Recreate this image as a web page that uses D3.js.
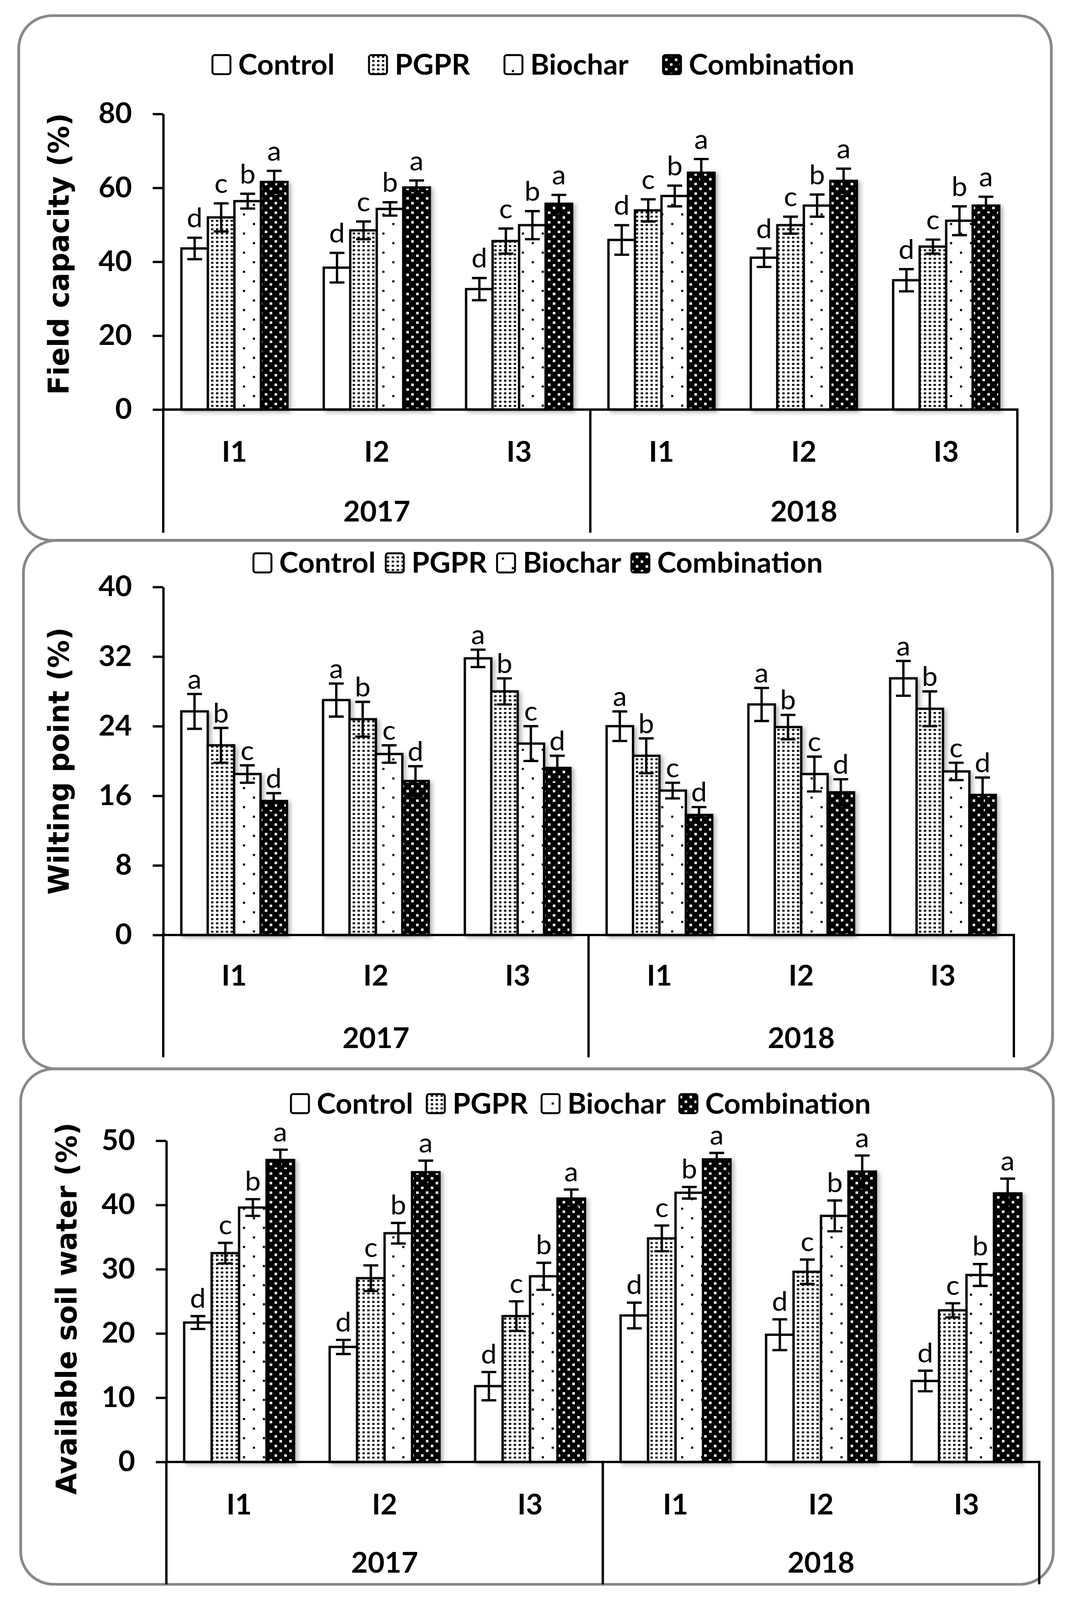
<!DOCTYPE html>
<html>
<head>
<meta charset="utf-8">
<script src="https://cdn.jsdelivr.net/npm/d3@7/dist/d3.min.js"></script>
<style>
  html, body { margin: 0; padding: 0; background: #fff; overflow: hidden; }
  svg { display: block; }
</style>
</head>
<body>
<script>
// categories
const series = ["Control", "PGPR", "Biochar", "Combination"];
const years = ["2017", "2018"];
const levels = ["I1", "I2", "I3"];

// Field capacity (%) -- order: 2017 I1, I2, I3, 2018 I1, I2, I3
const fcControl = [43.6, 38.4, 32.6, 45.9, 41.1, 35.0];
const fcPGPR = [52.0, 48.5, 45.6, 53.9, 49.9, 44.1];
const fcBiochar = [56.4, 54.3, 49.9, 57.8, 55.2, 51.1];
const fcCombination = [61.6, 60.1, 55.7, 64.1, 61.9, 55.2];
const fcControlErr = [2.9, 4.0, 3.0, 4.0, 2.5, 3.0];
const fcPGPRErr = [3.8, 2.4, 3.4, 3.0, 2.3, 1.9];
const fcBiocharErr = [2.0, 1.8, 3.8, 2.8, 3.0, 3.9];
const fcCombinationErr = [3.0, 1.9, 2.4, 3.7, 3.3, 2.4];
const fcLetters = ["d", "c", "b", "a"];
const fcTicks = [0, 20, 40, 60, 80];

// Wilting point (%)
const wpControl = [25.7, 27.0, 31.8, 24.0, 26.5, 29.5];
const wpPGPR = [21.8, 24.8, 28.0, 20.6, 23.9, 26.0];
const wpBiochar = [18.5, 20.8, 22.0, 16.6, 18.5, 18.8];
const wpCombination = [15.4, 17.7, 19.2, 13.8, 16.4, 16.1];
const wpControlErr = [2.0, 1.9, 1.0, 1.7, 1.9, 2.0];
const wpPGPRErr = [2.0, 2.0, 1.5, 2.0, 1.4, 2.0];
const wpBiocharErr = [1.0, 1.0, 2.0, 0.9, 2.0, 1.0];
const wpCombinationErr = [0.9, 1.7, 1.4, 0.9, 1.5, 2.0];
const wpLetters = ["a", "b", "c", "d"];
const wpTicks = [0, 8, 16, 24, 32, 40];

// Available soil water (%)
const aswControl = [21.7, 17.9, 11.8, 22.8, 19.8, 12.6];
const aswPGPR = [32.5, 28.6, 22.7, 34.8, 29.6, 23.6];
const aswBiochar = [39.6, 35.6, 28.9, 41.9, 38.3, 29.1];
const aswCombination = [47.0, 45.1, 41.0, 47.1, 45.2, 41.8];
const aswControlErr = [1.0, 1.1, 2.2, 2.0, 2.4, 1.6];
const aswPGPRErr = [1.6, 2.0, 2.3, 2.0, 1.9, 1.1];
const aswBiocharErr = [1.3, 1.6, 2.1, 0.9, 2.4, 1.7];
const aswCombinationErr = [1.6, 1.8, 1.4, 1.0, 2.5, 2.3];
const aswLetters = ["d", "c", "b", "a"];
const aswTicks = [0, 10, 20, 30, 40, 50];

const groupKeys = years.flatMap(y => levels.map(l => y + "-" + l));

// drawing is laid out on a 2750 x 4184 canvas and stretched to the visible window
const svg = d3.select("body")
  .append("svg")
  .attr("viewBox", "0 0 2750 4184")
  .attr("preserveAspectRatio", "none")
  .style("width", window.innerWidth + "px")
  .style("height", window.innerHeight + "px");

const defs = svg.append("defs");

// fill patterns, one per treatment
const pgpr = defs.append("pattern").attr("id", "pat-PGPR")
  .attr("patternUnits", "userSpaceOnUse").attr("width", 12.5).attr("height", 11);
pgpr.append("rect").attr("width", 12.5).attr("height", 11).attr("fill", "#fff");
pgpr.append("rect").attr("x", 3).attr("y", 3).attr("width", 6).attr("height", 5).attr("fill", "#000");

const bio = defs.append("pattern").attr("id", "pat-Biochar")
  .attr("patternUnits", "userSpaceOnUse").attr("width", 51).attr("height", 50);
bio.append("rect").attr("width", 51).attr("height", 50).attr("fill", "#fff");
bio.append("rect").attr("x", 10).attr("y", 8).attr("width", 5.5).attr("height", 5.5).attr("fill", "#000");
bio.append("rect").attr("x", 35.5).attr("y", 33).attr("width", 5.5).attr("height", 5.5).attr("fill", "#000");

const combo = defs.append("pattern").attr("id", "pat-Combination")
  .attr("patternUnits", "userSpaceOnUse").attr("width", 25).attr("height", 25);
combo.append("rect").attr("width", 25).attr("height", 25).attr("fill", "#000");
combo.append("rect").attr("x", 3).attr("y", 3).attr("width", 6.5).attr("height", 6.5).attr("fill", "#fff");
combo.append("rect").attr("x", 15.5).attr("y", 15.5).attr("width", 6.5).attr("height", 6.5).attr("fill", "#fff");

const fillFor = s => s === "Control" ? "#fff" : "url(#pat-" + s + ")";

const shadow = defs.append("filter").attr("id", "shadow")
  .attr("x", "-20%").attr("y", "-20%").attr("width", "140%").attr("height", "140%");
shadow.append("feDropShadow")
  .attr("dx", 6).attr("dy", 4).attr("stdDeviation", 6)
  .attr("flood-color", "#000").attr("flood-opacity", 0.3);

const textFont = "Lato, 'Liberation Sans', sans-serif";

function drawPanel(cfg, values, errors, letters, ticks) {
  const g = svg.append("g");

  // rounded panel frame
  g.append("rect")
    .attr("x", cfg.box[0]).attr("y", cfg.box[1])
    .attr("width", cfg.box[2]).attr("height", cfg.box[3])
    .attr("rx", 85).attr("ry", 85)
    .attr("fill", "none").attr("stroke", "#888").attr("stroke-width", 7);

  const x0 = d3.scaleBand().domain(groupKeys)
    .range([cfg.left, cfg.right]).paddingInner(cfg.pad).paddingOuter(cfg.pad / 2);
  const x1 = d3.scaleBand().domain(series).range([0, x0.bandwidth()]);
  const xYear = d3.scaleBand().domain(years).range([cfg.left, cfg.right]);
  const y = d3.scaleLinear().domain([0, cfg.max]).range([cfg.y0, cfg.yTop]);

  const rows = [];
  groupKeys.forEach((k, gi) => {
    series.forEach((s, si) => {
      rows.push({ group: k, series: s, value: values[si][gi], err: errors[si][gi], letter: letters[si] });
    });
  });

  // bars
  g.append("g").attr("filter", "url(#shadow)")
    .selectAll("rect")
    .data(rows)
    .enter()
    .append("rect")
    .attr("x", d => x0(d.group) + x1(d.series))
    .attr("y", d => y(d.value))
    .attr("width", x1.bandwidth())
    .attr("height", d => y(0) - y(d.value))
    .attr("fill", d => fillFor(d.series))
    .attr("stroke", "#000")
    .attr("stroke-width", 6);

  // y axis
  const yAxis = g.append("g")
    .attr("transform", "translate(" + cfg.left + ",0)")
    .call(d3.axisLeft(y).tickValues(ticks).tickSize(27).tickPadding(53).tickSizeOuter(0));
  yAxis.select(".domain").attr("stroke-width", 6);
  yAxis.selectAll(".tick line").attr("stroke-width", 6);
  yAxis.selectAll(".tick text")
    .attr("font-family", textFont).attr("font-weight", "bold").attr("font-size", 74)
    .attr("fill", "#000");

  // x axis line and the year dividers
  g.append("line")
    .attr("x1", cfg.left - 3).attr("x2", cfg.right + 3)
    .attr("y1", y(0)).attr("y2", y(0))
    .attr("stroke", "#000").attr("stroke-width", 6);
  const dividers = [cfg.left, xYear("2018"), cfg.right];
  g.selectAll(".divider")
    .data(dividers)
    .enter()
    .append("line")
    .attr("x1", d => d).attr("x2", d => d)
    .attr("y1", y(0)).attr("y2", cfg.bottom)
    .attr("stroke", "#000").attr("stroke-width", 6);

  // category and year labels
  g.selectAll(".cat")
    .data(groupKeys)
    .enter()
    .append("text")
    .attr("x", d => x0(d) + x0.bandwidth() / 2)
    .attr("y", cfg.catY)
    .attr("text-anchor", "middle")
    .attr("font-family", textFont).attr("font-weight", "bold").attr("font-size", 74)
    .text(d => d.split("-")[1]);
  g.selectAll(".year")
    .data(years)
    .enter()
    .append("text")
    .attr("x", d => xYear(d) + xYear.bandwidth() / 2)
    .attr("y", cfg.yearY)
    .attr("text-anchor", "middle")
    .attr("font-family", textFont).attr("font-weight", "bold").attr("font-size", 74)
    .text(d => d);

  // error bars
  const eb = g.append("g").attr("stroke", "#000").attr("stroke-width", 6);
  const cx = d => x0(d.group) + x1(d.series) + x1.bandwidth() / 2;
  eb.selectAll(".v").data(rows).enter().append("line")
    .attr("x1", cx).attr("x2", cx)
    .attr("y1", d => y(d.value - d.err)).attr("y2", d => y(d.value + d.err));
  eb.selectAll(".top").data(rows).enter().append("line")
    .attr("x1", d => cx(d) - 19).attr("x2", d => cx(d) + 19)
    .attr("y1", d => y(d.value + d.err)).attr("y2", d => y(d.value + d.err));
  eb.selectAll(".bot").data(rows).enter().append("line")
    .attr("x1", d => cx(d) - 19).attr("x2", d => cx(d) + 19)
    .attr("y1", d => y(d.value - d.err)).attr("y2", d => y(d.value - d.err));

  // significance letters
  g.selectAll(".letter")
    .data(rows)
    .enter()
    .append("text")
    .attr("x", cx)
    .attr("y", d => y(d.value + d.err) - cfg.letterGap)
    .attr("text-anchor", "middle")
    .attr("font-family", textFont).attr("font-size", 72)
    .text(d => d.letter);

  // y title
  g.append("text")
    .attr("transform", "translate(" + cfg.titleX + "," + cfg.titleY + ") rotate(-90)")
    .attr("text-anchor", "middle")
    .attr("font-family", "'DejaVu Sans', Verdana, sans-serif")
    .attr("font-weight", "bold")
    .attr("font-size", cfg.titleSize)
    .text(cfg.title);

  // legend
  const legend = g.append("g");
  let cursor = cfg.legendX;
  series.forEach(s => {
    legend.append("rect")
      .attr("x", cursor).attr("y", cfg.legendY - 25)
      .attr("width", 46).attr("height", 50).attr("rx", 6)
      .attr("fill", fillFor(s)).attr("stroke", "#000").attr("stroke-width", 5);
    const t = legend.append("text")
      .attr("x", cursor + 46 + 20).attr("y", cfg.legendY + 26)
      .attr("font-family", textFont).attr("font-weight", "bold").attr("font-size", 74)
      .text(s);
    cursor += 46 + 20 + t.node().getComputedTextLength() + cfg.legendGap;
  });
}

drawPanel({
  box: [48, 41, 2644, 1372], left: 418, right: 2605, pad: 0.255,
  y0: 1071, yTop: 298, max: 80, bottom: 1393, catY: 1207, yearY: 1364,
  legendX: 544, legendY: 169, legendGap: 88, letterGap: 27,
  title: "Field capacity (%)", titleX: 176, titleY: 664, titleSize: 73
}, [fcControl, fcPGPR, fcBiochar, fcCombination],
   [fcControlErr, fcPGPRErr, fcBiocharErr, fcCombinationErr], fcLetters, fcTicks);

drawPanel({
  box: [60, 1413, 2635, 1382], left: 418, right: 2596, pad: 0.255,
  y0: 2445, yTop: 1535, max: 40, bottom: 2765, catY: 2577, yearY: 2741,
  legendX: 649, legendY: 1472, legendGap: 26, letterGap: 14,
  title: "Wilting point (%)", titleX: 176, titleY: 1990, titleSize: 73
}, [wpControl, wpPGPR, wpBiochar, wpCombination],
   [wpControlErr, wpPGPRErr, wpBiocharErr, wpCombinationErr], wpLetters, wpTicks);

drawPanel({
  box: [53, 2795, 2644, 1348], left: 426, right: 2661, pad: 0.245,
  y0: 3823, yTop: 2983, max: 50, bottom: 4143, catY: 3960, yearY: 4112,
  legendX: 745, legendY: 2886, legendGap: 35, letterGap: 22,
  title: "Available soil water (%)", titleX: 196, titleY: 3422, titleSize: 73
}, [aswControl, aswPGPR, aswBiochar, aswCombination],
   [aswControlErr, aswPGPRErr, aswBiocharErr, aswCombinationErr], aswLetters, aswTicks);
</script>
</body>
</html>
